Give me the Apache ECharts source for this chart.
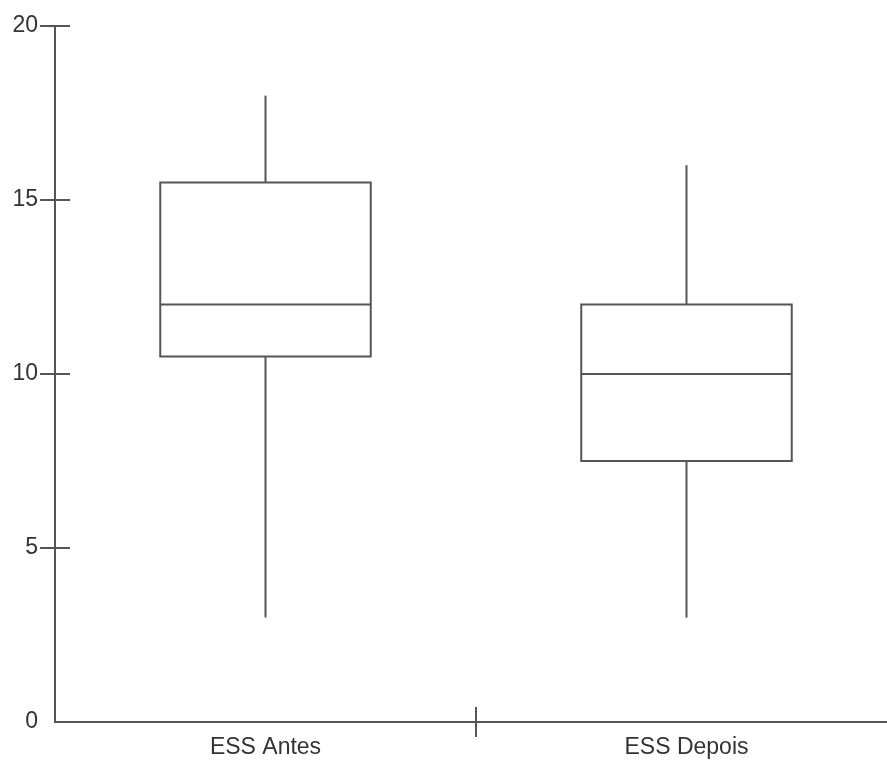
<!DOCTYPE html>
<html>
<head>
<meta charset="utf-8">
<script src="https://cdn.jsdelivr.net/npm/echarts@6/dist/echarts.min.js"></script>
<style>
  html, body { margin: 0; padding: 0; background: #fff; }
  #chart { width: 887px; height: 762px; }
</style>
</head>
<body>
<div id="chart"></div>
<script>
// Groups on the category axis
const categories = ['ESS Antes', 'ESS Depois'];
// Five-number summaries: [min, Q1, median, Q3, max]
const essAntes = [3, 10.5, 12, 15.5, 18];
const essDepois = [3, 7.5, 10, 12, 16];
// Y-axis tick marks
const yTicks = [5, 10, 15, 20];

const lineColor = '#555';
const textColor = '#333';
const fontFamily = '"Liberation Sans", Arial, sans-serif';

// Box-and-whisker without end caps, positioned through the axes
function renderBox(params, api) {
  const cat = api.value(0);
  const bandW = api.size([1, 0])[0];
  const halfW = bandW * 0.25;
  const pMin = api.coord([cat, api.value(1)]);
  const pQ1 = api.coord([cat, api.value(2)]);
  const pMed = api.coord([cat, api.value(3)]);
  const pQ3 = api.coord([cat, api.value(4)]);
  const pMax = api.coord([cat, api.value(5)]);
  const x = pMed[0];
  const style = { stroke: lineColor, lineWidth: 2, fill: null };
  return {
    type: 'group',
    children: [
      { type: 'line', shape: { x1: x, y1: pMax[1], x2: x, y2: pQ3[1] }, style: style },
      { type: 'line', shape: { x1: x, y1: pQ1[1], x2: x, y2: pMin[1] }, style: style },
      { type: 'rect', shape: { x: x - halfW, y: pQ3[1], width: halfW * 2, height: pQ1[1] - pQ3[1] },
        style: { stroke: lineColor, lineWidth: 2, fill: '#fff' } },
      { type: 'line', shape: { x1: x - halfW, y1: pMed[1], x2: x + halfW, y2: pMed[1] }, style: style }
    ]
  };
}

const chart = echarts.init(document.getElementById('chart'));
chart.setOption({
  animation: false,
  grid: { left: 55, width: 842, top: 26, bottom: 40, outerBoundsMode: 'none' },
  xAxis: [
    {
      type: 'category',
      data: categories,
      boundaryGap: true,
      axisLine: { show: true, lineStyle: { color: lineColor, width: 2 } },
      axisTick: { show: false },
      axisLabel: { color: textColor, fontSize: 23, fontFamily: fontFamily, margin: 14 },
      splitLine: { show: false }
    },
    {
      // crossing tick between the two groups
      type: 'value',
      min: 0, max: 2,
      position: 'bottom',
      offset: -15,
      axisLine: { show: false },
      axisTick: { show: true, length: 30, customValues: [1], lineStyle: { color: lineColor, width: 2 } },
      axisLabel: { show: false },
      splitLine: { show: false }
    }
  ],
  yAxis: [
    {
      type: 'value',
      min: 0, max: 20, interval: 5,
      axisLine: { show: true, lineStyle: { color: lineColor, width: 2 } },
      axisTick: { show: false },
      axisLabel: { color: textColor, fontSize: 23, fontFamily: fontFamily, margin: 17 },
      splitLine: { show: false }
    },
    {
      // crossing ticks on the value axis
      type: 'value',
      min: 0, max: 20, interval: 5,
      position: 'left',
      offset: -15,
      axisLine: { show: false },
      axisTick: { show: true, length: 30, customValues: yTicks, lineStyle: { color: lineColor, width: 2 } },
      axisLabel: { show: false },
      splitLine: { show: false }
    }
  ],
  series: [
    {
      type: 'custom',
      xAxisIndex: 0,
      yAxisIndex: 0,
      renderItem: renderBox,
      encode: { x: 0, y: [1, 2, 3, 4, 5] },
      data: [[0].concat(essAntes), [1].concat(essDepois)]
    }
  ]
});
</script>
</body>
</html>
